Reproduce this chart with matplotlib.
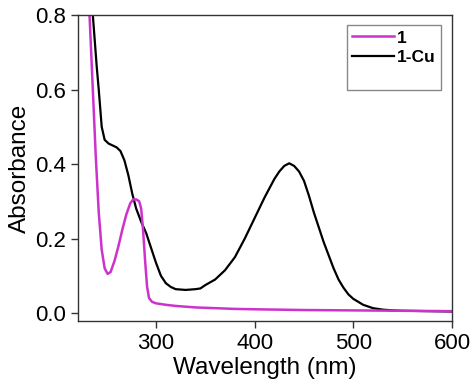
import numpy as np
import matplotlib
matplotlib.use("Agg")
import matplotlib.pyplot as plt
from matplotlib.lines import Line2D

plt.rcParams['font.family'] = ['Liberation Sans', 'DejaVu Sans']

# compound 1
wl_1 = [226, 230, 233, 236, 239, 242, 245, 248, 251, 254, 258, 262, 266, 270, 274, 277,
        280, 283, 285, 287, 289, 291, 293, 296, 300, 310, 320, 340, 360, 380, 400, 450,
        500, 550, 600]
abs_1 = [1.2, 0.95, 0.78, 0.6, 0.42, 0.27, 0.17, 0.12, 0.105, 0.11, 0.14, 0.18, 0.225, 0.265,
         0.295, 0.305, 0.305, 0.3, 0.28, 0.22, 0.14, 0.07, 0.04, 0.03, 0.026, 0.022, 0.019,
         0.015, 0.013, 0.011, 0.010, 0.008, 0.007, 0.006, 0.005]

# compound 1-Cu
wl_cu = [228, 232, 236, 240, 242, 245, 248, 252, 256, 260, 264, 268, 272, 276, 280, 285,
         290, 295, 300, 305, 310, 315, 320, 330, 340, 345, 350, 360, 370, 380, 390, 400,
         410, 420, 425, 430, 435, 440, 445, 450, 455, 460, 465, 470, 475, 480, 485, 490,
         495, 500, 510, 520, 530, 540, 550, 575, 600]
abs_cu = [1.2, 1.0, 0.8, 0.66, 0.6, 0.5, 0.465, 0.455, 0.45, 0.445, 0.435, 0.41, 0.37,
          0.32, 0.28, 0.245, 0.215, 0.175, 0.135, 0.10, 0.08, 0.07, 0.064, 0.062, 0.064,
          0.066, 0.075, 0.09, 0.115, 0.15, 0.2, 0.255, 0.31, 0.36, 0.38, 0.395, 0.402,
          0.395, 0.38, 0.355, 0.315, 0.27, 0.23, 0.19, 0.155, 0.12, 0.09, 0.068, 0.05,
          0.038, 0.022, 0.013, 0.009, 0.007, 0.006, 0.005, 0.004]

magenta = '#cc33cc'

fig = plt.figure(figsize=(4.74, 3.87), dpi=100)
ax = fig.add_axes([0.1646, 0.1705, 0.789, 0.7905])

ax.plot(wl_cu, abs_cu, color='black', lw=1.6)
ax.plot(wl_1, abs_1, color=magenta, lw=1.8)

ax.set_xlim(221, 600)
ax.set_ylim(-0.0215, 0.8)
ax.set_xticks([300, 400, 500, 600])
ax.set_yticks([0.0, 0.2, 0.4, 0.6, 0.8])
ax.set_yticklabels(['0.0', '0.2', '0.4', '0.6', '0.8'])
ax.tick_params(labelsize=16, direction='out', length=5, width=1, color='#333333')
ax.set_xlabel('Wavelength (nm)', fontsize=17.5, labelpad=2)
ax.set_ylabel('Absorbance', fontsize=17.5, labelpad=3)
for s in ax.spines.values():
    s.set_color('#333333')
    s.set_linewidth(1)

handles = [Line2D([], [], color=magenta, lw=1.8),
           Line2D([], [], color='black', lw=1.6),
           Line2D([], [], color='none')]
leg = ax.legend(handles, ['1', '1-Cu', ' '], loc='upper right',
                bbox_to_anchor=(0.971, 0.967), borderaxespad=0, fancybox=False, framealpha=1,
                edgecolor='#888888', handlelength=2.4, handletextpad=0.2,
                prop={'weight': 'bold', 'size': 12.5}, borderpad=0.3, labelspacing=0.25)
leg.get_frame().set_linewidth(1)

fig.savefig('out.png', dpi=100)
